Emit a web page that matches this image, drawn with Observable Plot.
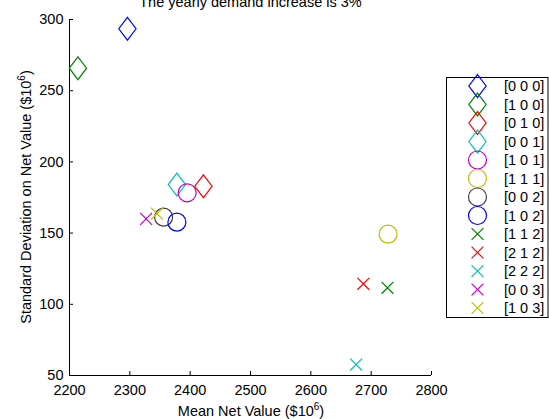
<!DOCTYPE html>
<html><head><meta charset="utf-8">
<script src="https://cdn.jsdelivr.net/npm/d3@7"></script>
<script src="https://cdn.jsdelivr.net/npm/@observablehq/plot@0.6"></script>
<style>
html,body{margin:0;padding:0;background:#fff;overflow:hidden}
svg{display:block}
</style></head><body><div id="chart"></div>
<script>
// ---- data ----
const seriesLabels = ["[0 0 0]","[1 0 0]","[0 1 0]","[0 0 1]","[1 0 1]","[1 1 1]","[0 0 2]","[1 0 2]","[1 1 2]","[2 1 2]","[2 2 2]","[0 0 3]","[1 0 3]"];
const meanNetValue = [2296, 2214, 2422, 2378, 2395, 2728, 2356, 2378, 2727, 2687, 2675, 2327, 2345];
const stdNetValue  = [293.5, 265.8, 182.9, 184.1, 178.3, 149.3, 161.2, 157.7, 111.6, 114.4, 57.7, 160.0, 163.6];
const markerColors = ["#0000ff","#008000","#ff0000","#00bfbf","#bf00bf","#bfbf00","#404040","#0000ff","#008000","#ff0000","#00bfbf","#bf00bf","#bfbf00"];
const markerShapes = ["diamond","diamond","diamond","diamond","circle","circle","circle","circle","x","x","x","x","x"];
const xTicks = [2200, 2300, 2400, 2500, 2600, 2700, 2800];
const yTicks = [50, 100, 150, 200, 250, 300];
const titleText = "The yearly demand increase is 3%";
const xLabelText = "Mean Net Value ($10";
const yLabelText = "Standard Deviation on Net Value ($10";
const superscript = "6";

const data = seriesLabels.map((label, i) => ({label, x: meanNetValue[i], y: stdNetValue[i], color: markerColors[i], shape: markerShapes[i]}));

// ---- symbols (MATLAB-like) ----
const symbols = {
  diamond: {draw(c, size) { const r = Math.sqrt(size / Math.PI); const w = r * 0.96, h = r * 1.27; c.moveTo(0, -h); c.lineTo(w, 0); c.lineTo(0, h); c.lineTo(-w, 0); c.closePath(); }},
  circle: {draw(c, size) { const r = Math.sqrt(size / Math.PI); c.moveTo(r, 0); c.arc(0, 0, r, 0, 2 * Math.PI); c.closePath(); }},
  x: {draw(c, size) { const r = Math.sqrt(size / Math.PI) * 0.66; c.moveTo(-r, -r); c.lineTo(r, r); c.moveTo(-r, r); c.lineTo(r, -r); }}
};
const R = 9;
const FONT = "'Liberation Sans', Arial, Helvetica, sans-serif";
const FS = 14.5;

const W = 549, H = 419, mL = 69, mR = 118, mT = 19, mB = 44;
const innerW = W - mL - mR, innerH = H - mT - mB;

const dotMarks = ["diamond", "circle", "x"].map(s =>
  Plot.dot(data.filter(d => d.shape === s), {x: "x", y: "y", stroke: "color", fill: "none", strokeWidth: 1.2, r: R, symbol: symbols[s]})
);

const chart = Plot.plot({
  width: W, height: H,
  marginLeft: mL, marginRight: mR, marginTop: mT, marginBottom: mB,
  style: {fontFamily: FONT, fontSize: FS + "px", color: "#000", background: "#fff", overflow: "visible"},
  x: {domain: [2200, 2800]},
  y: {domain: [50, 300]},
  color: {type: "identity"},
  marks: [
    Plot.axisX({ticks: xTicks, tickSize: 0, tickPadding: 9, label: null, tickFormat: d => String(d), fontSize: FS}),
    Plot.axisY({ticks: yTicks, tickSize: 0, tickPadding: 6, label: null, tickFormat: d => String(d), fontSize: FS}),
    Plot.ruleX(xTicks, {x: d => d, insetTop: innerH - 4, stroke: "#000"}),
    Plot.ruleY(yTicks, {y: d => d, insetRight: innerW - 4, stroke: "#000"}),
    Plot.ruleX([xTicks[0]], {stroke: "#000"}),
    Plot.ruleY([yTicks[0]], {stroke: "#000"}),
    ...dotMarks
  ]
});
document.getElementById("chart").appendChild(chart);

const svg = d3.select(chart);
const txt = (sel) => sel.attr("font-family", FONT).attr("font-size", FS).attr("fill", "#000");

// title
svg.append("text").call(txt).attr("x", 250.5).attr("y", 7).attr("text-anchor", "middle").text(titleText);

// x label
const xl = svg.append("text").call(txt).attr("x", 251).attr("y", 416).attr("text-anchor", "middle");
xl.append("tspan").text(xLabelText);
xl.append("tspan").attr("font-size", 10).attr("dy", -6).text(superscript);
xl.append("tspan").attr("dy", 6).text(")");

// y label
const yl = svg.append("text").call(txt).attr("transform", "translate(31,197) rotate(-90)").attr("text-anchor", "middle");
yl.append("tspan").text(yLabelText);
yl.append("tspan").attr("font-size", 10).attr("dy", -6).text(superscript);
yl.append("tspan").attr("dy", 6).text(")");

// legend
const lg = svg.append("g");
lg.append("rect").attr("x", 446.5).attr("y", 77.5).attr("width", 101.5).attr("height", 240)
  .attr("fill", "#fff").attr("stroke", "#000").attr("stroke-width", 1);
data.forEach((d, i) => {
  const cy = 86 + i * 18.5;
  const p = d3.path();
  symbols[d.shape].draw(p, R * R * Math.PI);
  lg.append("path").attr("transform", `translate(477.5,${cy})`).attr("d", p.toString())
    .attr("fill", "none").attr("stroke", d.color).attr("stroke-width", 1.2);
  lg.append("text").call(txt).attr("x", 504).attr("y", cy).attr("dy", "0.36em").attr("text-anchor", "start").text(d.label);
});
</script>
</body></html>
